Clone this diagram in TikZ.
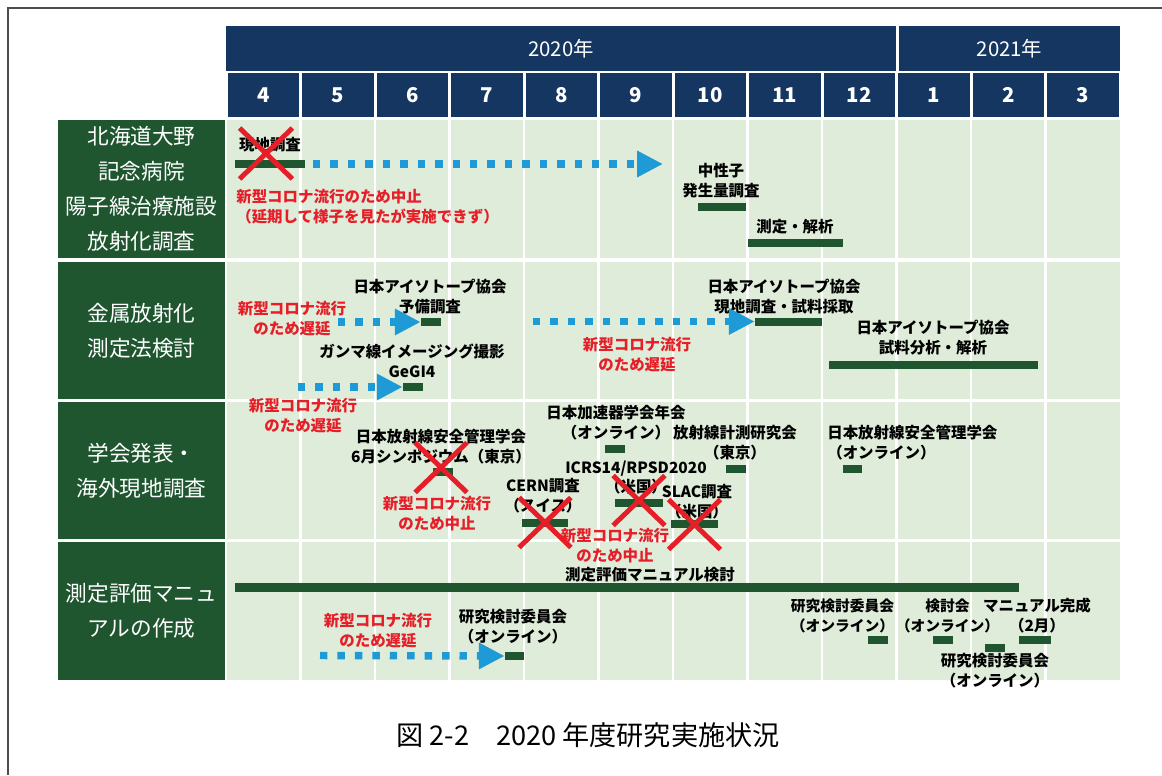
\documentclass[tikz,border=0pt]{standalone}
\usepackage{fontspec}
\setmainfont{Noto Sans CJK JP}
\usetikzlibrary{arrows.meta,shapes.misc}
\definecolor{hdblue}{RGB}{20,54,97}
\definecolor{rowgreen}{RGB}{31,86,48}
\definecolor{cellgreen}{RGB}{222,236,217}
\definecolor{bargreen}{RGB}{31,86,48}
\definecolor{delayblue}{RGB}{30,155,215}
\definecolor{covidred}{RGB}{230,30,40}
\newcommand\pxu{0.025cm}

\begin{document}
\begin{tikzpicture}[x=0.025cm,y=-0.025cm,
  hdcell/.style={fill=hdblue,text=white,inner sep=0},
  rowhead/.style={fill=rowgreen,text=white,align=center,inner sep=0,
    minimum width=167*\pxu,font=\fontsize{15.4}{24.8}\selectfont},
  task/.style={align=center,inner sep=0,font=\bfseries\fontsize{11}{14.2}\selectfont},
  covid/.style={task,text=covidred},
  bar/.style={fill=bargreen,inner sep=0,minimum height=8*\pxu},
  delay/.style={draw=delayblue,line width=5.3pt,dash pattern=on 5.3pt off 7.1pt,
    -{Triangle[length=18.4pt,width=17.7pt]}},
  cancel/.style={cross out,draw=covidred,line width=3.5pt,inner sep=0,
    minimum width=47*\pxu,minimum height=45*\pxu}]
\useasboundingbox (0,0) rectangle (1162,775);
\draw[black!70,line width=1pt] (1162,8) -- (8,8) -- (8,775);

\node[hdcell,minimum width=670*\pxu,minimum height=45*\pxu,font=\fontsize{14.5}{17}\selectfont] (y2020) at (561,48.5) {2020年};
\node[hdcell,minimum width=221*\pxu,minimum height=45*\pxu,font=\fontsize{14.5}{17}\selectfont] (y2021) at (1009.5,48.5) {2021年};
\foreach \m [count=\i from 0] in {4,5,6,7,8,9,10,11,12,1,2,3}
  \node[hdcell,minimum width=71.5*\pxu,minimum height=44*\pxu,font=\bfseries\fontsize{14.5}{17}\selectfont] (m\i) at (263.25+74.5*\i,95) {\m};

\fill[cellgreen] (227,120) rectangle (1120,680);
\foreach \i in {1,...,11}
  \draw[white,line width=2pt] (226+74.5*\i,120) -- (226+74.5*\i,680);
\foreach \y in {260,400.5,540.5}
  \draw[white,line width=2.2pt] (227,\y) -- (1120,\y);

\node[rowhead,minimum height=138*\pxu] (r1) at (141.5,189) {北海道大野\\記念病院\\陽子線治療施設\\放射化調査};
\node[rowhead,minimum height=137*\pxu] (r2) at (141.5,330.5) {金属放射化\\測定法検討};
\node[rowhead,minimum height=137*\pxu] (r3) at (141.5,470.5) {学会発表・\\海外現地調査};
\node[rowhead,minimum height=138*\pxu] (r4) at (141.5,611) {測定評価マニュ\\アルの作成};

\node[task] (t1) at (270,145) {現地調査};
\node[bar,minimum width=70*\pxu] (b1) at (270,163.5) {};
\node[cancel,minimum width=48*\pxu,minimum height=46*\pxu] (x1) at (266,153.5) {};
\coordinate (a1) at (313,164);
\coordinate (e1) at (663,164);
\draw[delay] (a1) -- (e1);
\node[covid,align=left,anchor=west] (c1) at (236,206.5) {新型コロナ流行のため中止\\（延期して様子を見たが実施できず）};
\node[task] (t2) at (721,181) {中性子\\発生量調査};
\node[bar,minimum width=48*\pxu] (b2) at (722,207) {};
\node[task] (t3) at (795,226.5) {測定・解析};
\node[bar,minimum width=95*\pxu] (b3) at (795.5,242.5) {};

\node[task] (t4) at (430,297) {日本アイソトープ協会\\予備調査};
\node[bar,minimum width=20*\pxu] (b4) at (431,322) {};
\coordinate (a4) at (338,322);
\draw[delay] (a4) -- (b4.west);
\node[covid] (c4) at (292,319) {新型コロナ流行\\のため遅延};
\node[task] (t5) at (412,361) {ガンマ線イメージング撮影\\GeGI4};
\node[bar,minimum width=20*\pxu] (b5) at (413,387) {};
\coordinate (a5) at (298,387);
\draw[delay] (a5) -- (b5.west);
\node[covid] (c5) at (303,416) {新型コロナ流行\\のため遅延};
\node[task] (t6) at (784,297) {日本アイソトープ協会\\現地調査・試料採取};
\node[bar,minimum width=67*\pxu] (b6) at (788.5,321.5) {};
\coordinate (a6) at (533,321.5);
\draw[delay] (a6) -- (b6.west);
\node[covid] (c6) at (637,354.5) {新型コロナ流行\\のため遅延};
\node[task] (t7) at (933,338) {日本アイソトープ協会\\試料分析・解析};
\node[bar,minimum width=209*\pxu] (b7) at (933.5,364.5) {};

\node[task] (t8) at (441,446.5) {日本放射線安全管理学会\\6月シンポジウム（東京）};
\node[bar,minimum width=20*\pxu] (b8) at (443,472) {};
\node[cancel] (x8) at (441,467.5) {};
\node[covid] (c8) at (437,514) {新型コロナ流行\\のため中止};
\node[task] (t9) at (616,423) {日本加速器学会年会\\（オンライン）};
\node[bar,minimum width=20*\pxu] (b9) at (615,448.5) {};
\node[task] (t10) at (735,442.5) {放射線計測研究会\\（東京）};
\node[bar,minimum width=20*\pxu] (b10) at (736,468.5) {};
\node[task,align=left,anchor=west] (t11) at (827,442.5) {日本放射線安全管理学会\\（オンライン）};
\node[bar,minimum width=19*\pxu] (b11) at (852.5,469) {};
\node[task] (t12) at (636,477.5) {ICRS14/RPSD2020\\（米国）};
\node[bar,minimum width=48*\pxu] (b12) at (639,503) {};
\node[cancel] (x12) at (639,500.5) {};
\node[task] (t13) at (697,502) {SLAC調査\\（米国）};
\node[bar,minimum width=47*\pxu] (b13) at (694.5,524) {};
\node[cancel] (x13) at (694.5,524.5) {};
\node[task] (t14) at (543,496) {CERN調査\\（スイス）};
\node[bar,minimum width=46*\pxu] (b14) at (545,523) {};
\node[cancel] (x14) at (545,522.5) {};
\node[covid] (c13) at (615,546) {新型コロナ流行\\のため中止};

\node[task] (t15) at (650,575) {測定評価マニュアル検討};
\node[bar,minimum width=784*\pxu,minimum height=9*\pxu] (b15) at (627,587.5) {};
\node[covid] (c16) at (378,630.5) {新型コロナ流行\\のため遅延};
\node[task] (t16) at (513,627) {研究検討委員会\\（オンライン）};
\node[bar,minimum width=19*\pxu] (b16) at (514.5,656) {};
\coordinate (a16) at (320,655.5);
\draw[delay] (a16) -- (b16.west);
\node[task,font=\bfseries\fontsize{10.5}{14.2}\selectfont] (t17) at (842.5,615.5) {研究検討委員会\\（オンライン）};
\node[bar,minimum width=20*\pxu] (b17) at (878,640) {};
\node[task,font=\bfseries\fontsize{10.5}{14.2}\selectfont] (t18) at (947.5,615.5) {検討会\\（オンライン）};
\node[bar,minimum width=20*\pxu] (b18) at (943,640) {};
\node[task] (t19) at (1037,615.5) {マニュアル完成\\（2月）};
\node[bar,minimum width=32*\pxu] (b19) at (1035,640) {};
\node[bar,minimum width=20*\pxu] (b20) at (995,648) {};
\node[task] (t20) at (995,671) {研究検討委員会\\（オンライン）};

\node[inner sep=0,font=\fontsize{19.3}{23}\selectfont] (cap) at (588,735) {図 2-2　2020 年度研究実施状況};
\end{tikzpicture}
\end{document}
